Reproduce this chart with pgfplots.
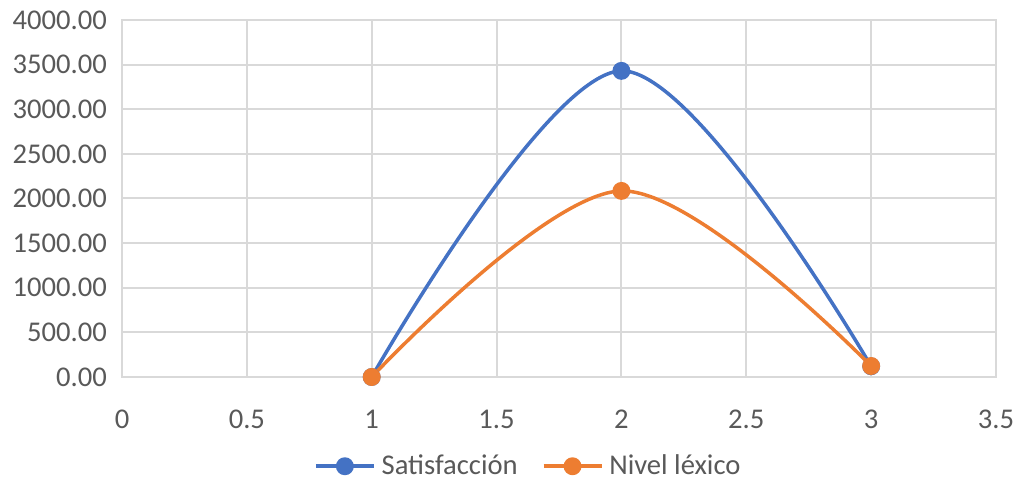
\documentclass[border=0pt]{standalone}
\usepackage{fontspec}
\setmainfont{Carlito}
\usepackage{pgfplots}
\pgfplotsset{compat=1.18}
\usetikzlibrary{calc}
\definecolor{xlblue}{HTML}{4472C4}
\definecolor{xlorange}{HTML}{ED7D31}
\definecolor{xlgrid}{HTML}{D9D9D9}
\definecolor{xltext}{HTML}{595959}
\begin{document}
\begin{tikzpicture}
\begin{axis}[
  scale only axis,
  width=437pt, height=178.5pt,
  xmin=0, xmax=3.5,
  ymin=0, ymax=4000,
  xtick={0,0.5,...,3.5},
  ytick={0,500,...,4000},
  xticklabels={0,0.5,1,1.5,2,2.5,3,3.5},
  grid=major,
  grid style={xlgrid, line width=1pt},
  axis line style={xlgrid, line width=1pt},
  major tick length=0pt,
  tick label style={font=\fontsize{14.3}{17}\selectfont, text=xltext},
  /pgf/number format/assume math mode=true,
  yticklabel style={/pgf/number format/fixed, /pgf/number format/fixed zerofill,
    /pgf/number format/precision=2, /pgf/number format/1000 sep={}, xshift=-4pt},
  xticklabel style={yshift=-13pt},
  legend style={at={(0.466,-0.25)}, anchor=center, draw=none,
    font=\fontsize{14.3}{17}\selectfont, text=xltext,
    legend columns=-1, column sep=1pt,
    /tikz/every even column/.append style={column sep=10pt}},
  legend image code/.code={%
    \draw[#1, mark repeat=2, mark phase=2] plot coordinates {(0pt,0pt) (14.5pt,0pt) (29pt,0pt)};},
]
\addplot[xlblue, line width=1.75pt, smooth, tension=0.55, mark=*, mark size=3.6pt, mark options={solid, fill=xlblue}]
  coordinates {(1,0) (2,3430) (3,120)};
\addlegendentry{Satisfacción}
\addplot[xlorange, line width=1.75pt, smooth, tension=0.55, mark=*, mark size=3.6pt, mark options={solid, fill=xlorange}]
  coordinates {(1,0) (2,2085) (3,123)};
\addlegendentry{Nivel léxico}
\end{axis}
\pgfresetboundingbox
\path[use as bounding box] ($(current axis.south west)+(-61pt,-53.5pt)$) rectangle ($(current axis.north east)+(12pt,10pt)$);
\end{tikzpicture}
\end{document}
